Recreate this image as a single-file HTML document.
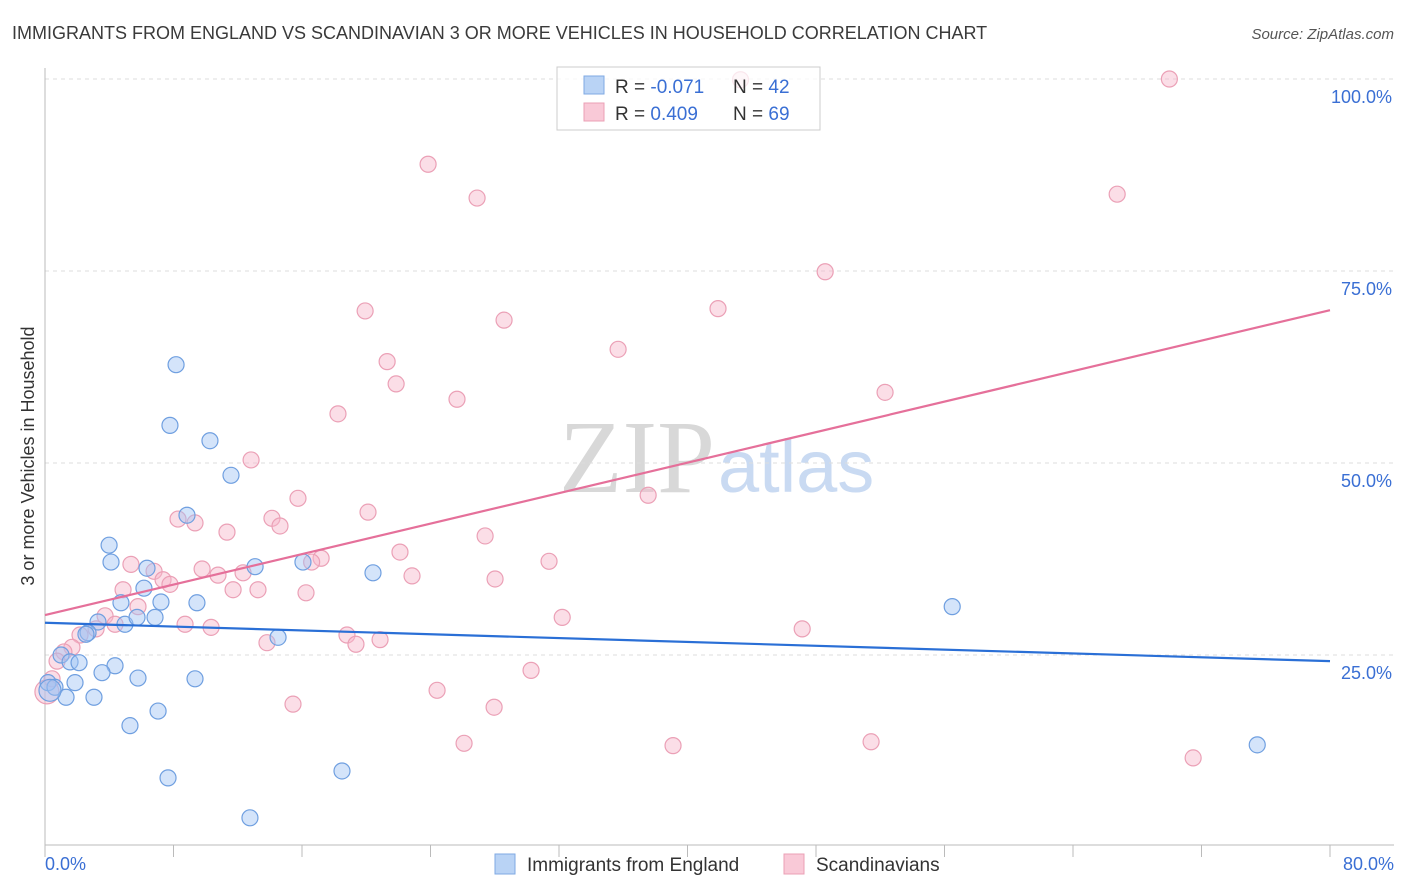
<!DOCTYPE html>
<html><head><meta charset="utf-8">
<style>
body{margin:0;background:#fff;font-family:"Liberation Sans",sans-serif;}
svg{display:block}
</style></head>
<body>
<svg id="chart" width="1406" height="892">
<text x="12" y="39" font-size="18" fill="#3a3a3a">IMMIGRANTS FROM ENGLAND VS SCANDINAVIAN 3 OR MORE VEHICLES IN HOUSEHOLD CORRELATION CHART</text>
<text x="1394" y="39" font-size="15" fill="#555" font-style="italic" text-anchor="end">Source: ZipAtlas.com</text>
<text x="715" y="492" font-size="104" fill="#d8d8d8" font-family="Liberation Serif,serif" text-anchor="end">ZIP</text>
<text x="718" y="492" font-size="74" fill="#c9daf2">atlas</text>
<text x="34" y="456" font-size="18" fill="#333" text-anchor="middle" transform="rotate(-90 34 456)">3 or more Vehicles in Household</text>
<g id="grid"></g><g id="ticks"></g><g id="pts"></g><g id="lines"></g>
<g>
<rect x="557" y="67" width="263" height="63" fill="rgba(255,255,255,0.75)" stroke="#ccc"/>
<rect x="584" y="76" width="20" height="18" fill="#b9d3f5" stroke="#7fa9e3"/>
<rect x="584" y="103" width="20" height="18" fill="#f9c9d7" stroke="#eba0b6"/>
<text x="615" y="93" font-size="19" fill="#333">R = <tspan fill="#3a6fd4">-0.071</tspan></text>
<text x="733" y="93" font-size="19" fill="#333">N = <tspan fill="#3a6fd4">42</tspan></text>
<text x="615" y="120" font-size="19" fill="#333">R = <tspan fill="#3a6fd4"> 0.409</tspan></text>
<text x="733" y="120" font-size="19" fill="#333">N = <tspan fill="#3a6fd4">69</tspan></text>
</g>
<g>
<rect x="495" y="854" width="20" height="20" fill="#b9d3f5" stroke="#7fa9e3"/>
<text x="527" y="871" font-size="19" fill="#333">Immigrants from England</text>
<rect x="784" y="854" width="20" height="20" fill="#f9c9d7" stroke="#eba0b6"/>
<text x="816" y="871" font-size="19" fill="#333">Scandinavians</text>
</g>
</svg>
<script>
const xTicks=[0,10,20,30,40,50,60,70,80];
const yTicks=[25,50,75,100];
const blueX=[8.16,7.78,10.27,11.58,8.84,3.99,4.11,6.35,13.08,16.06,20.42,6.16,4.73,7.22,9.46,3.30,4.98,5.73,6.85,2.68,14.51,56.48,1.0,1.56,2.12,4.36,3.55,0.19,0.62,1.87,5.79,9.34,1.31,3.05,7.04,5.29,7.66,18.49,12.76,75.47,0.31,2.55];
const blueY=[62.8,54.9,52.9,48.4,43.2,39.3,37.1,36.3,36.5,37.1,35.7,33.7,31.8,31.9,31.8,29.3,29.0,29.9,29.9,27.9,27.3,31.3,25.0,24.1,24.0,23.6,22.7,21.4,20.8,21.4,22.0,21.9,19.5,19.5,17.7,15.8,9.0,9.9,3.8,13.3,20.4,27.7];
const pinkX=[43.3,70.0,23.85,26.9,66.75,48.57,19.93,41.9,28.58,35.68,21.3,21.86,52.3,25.65,18.24,12.83,37.55,15.75,20.11,8.28,9.34,14.13,14.63,11.33,27.4,22.1,17.19,16.6,31.38,5.35,6.79,9.78,12.33,10.77,22.85,28.02,7.35,7.78,4.86,11.71,13.26,16.25,5.79,3.74,8.72,10.34,32.2,3.18,47.14,4.36,2.18,18.8,13.82,19.36,20.86,1.68,1.18,0.75,30.26,0.44,24.41,0.12,15.44,27.96,26.09,39.1,51.43,71.48];
const pinkY=[99.9,100,88.9,84.5,85.0,74.9,69.8,70.1,68.6,64.8,63.2,60.3,59.2,58.3,56.4,50.4,45.8,45.4,43.6,42.7,42.2,42.8,41.8,41.0,40.5,38.4,37.6,37.1,37.2,36.8,35.9,36.2,35.7,35.4,35.3,34.9,34.8,34.2,33.5,33.5,33.5,33.1,31.3,30.1,29.0,28.6,29.9,28.4,28.4,29.0,27.6,27.6,26.6,26.4,27.0,26.0,25.4,24.2,23.0,21.9,20.4,20.2,18.6,18.2,13.5,13.2,13.7,11.6];
const blueLine=[29.2,24.2];
const pinkLine=[30.2,69.9];
const NS="http://www.w3.org/2000/svg";
const X=v=>45+v/80*1285, Y=v=>847-v*7.68;
function mk(p,t,a){const e=document.createElementNS(NS,t);for(const k in a)e.setAttribute(k,a[k]);document.getElementById(p).appendChild(e);return e;}
yTicks.forEach(t=>{
 const g=mk('grid','line',{x1:45,x2:1394,y1:Y(t),y2:Y(t),stroke:'#ddd','stroke-dasharray':'4,4'});
 
 
 const l=mk('ticks','text',{x:1392,y:Y(t)+24,'font-size':18,fill:'#3a6fd4','text-anchor':'end'});
 l.textContent=t.toFixed(1)+'%';
 
 
});
mk('grid','line',{x1:45,x2:45,y1:68,y2:845,stroke:'#bbb'});
mk('grid','line',{x1:45,x2:1394,y1:845,y2:845,stroke:'#bbb'});
for(let i=0;i<=10;i++){const x=45+i*128.5;mk('ticks','line',{x1:x,x2:x,y1:845,y2:857,stroke:'#bbb'});}
[[0,'0.0%','start',45],[80,'80.0%','end',1394]].forEach(d=>{
 const l=mk('ticks','text',{x:d[3],y:870,'font-size':18,fill:'#3a6fd4','text-anchor':d[2]});
 l.textContent=d[1];
 
 
});
pinkX.forEach((v,i)=>{
 const c=mk('pts','circle',{cx:X(v),cy:Y(pinkY[i]),r:i==61?12:8,fill:'rgba(247,182,202,0.45)',stroke:'#eba0b6','stroke-width':1.2});
 
 
});
blueX.forEach((v,i)=>{
 const c=mk('pts','circle',{cx:X(v),cy:Y(blueY[i]),r:i==40?11:8,fill:'rgba(160,196,243,0.45)',stroke:'#6f9fe0','stroke-width':1.2});
 
 
});
const bl=mk('lines','line',{x1:X(0),x2:X(80),y1:Y(blueLine[0]),y2:Y(blueLine[1]),stroke:'#2a6fd6','stroke-width':2.2});


const pl=mk('lines','line',{x1:X(0),x2:X(80),y1:Y(pinkLine[0]),y2:Y(pinkLine[1]),stroke:'#e5709a','stroke-width':2.2});


</script>
</body></html>
